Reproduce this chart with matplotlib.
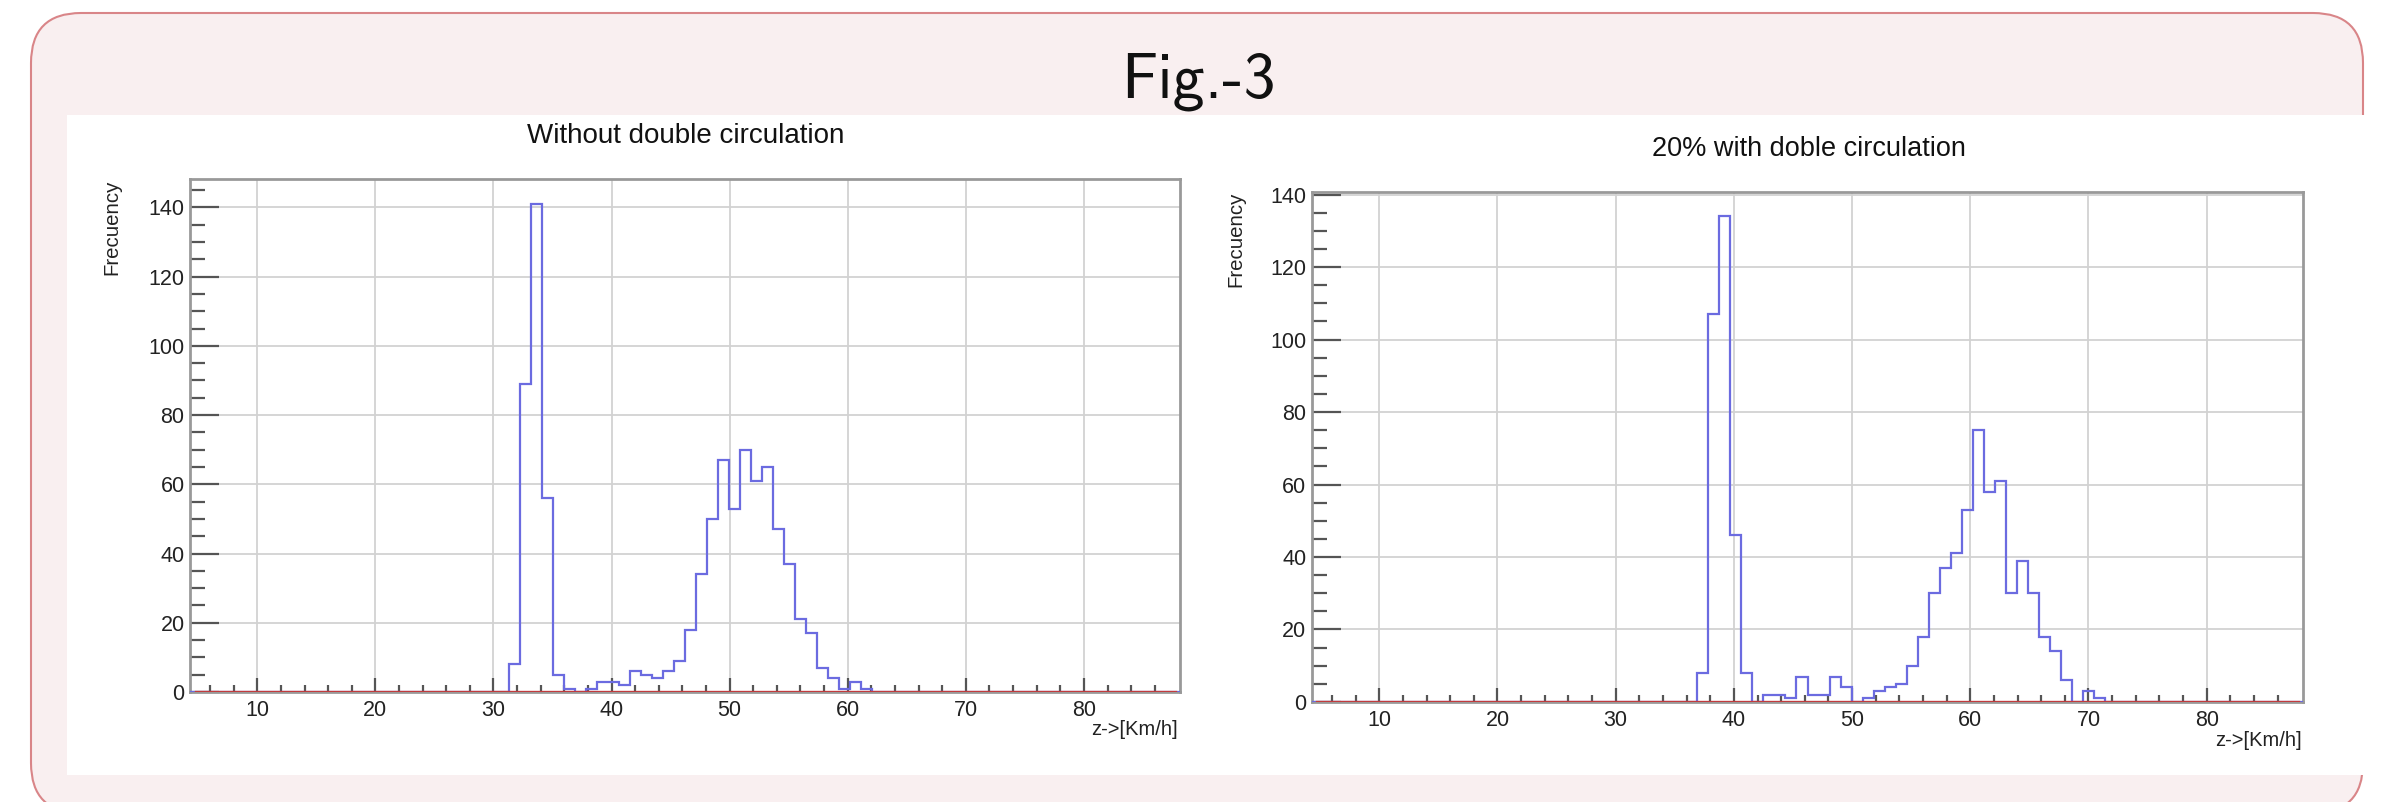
import numpy as np
import matplotlib
matplotlib.use("Agg")
import matplotlib.pyplot as plt
from matplotlib.patches import FancyBboxPatch, Rectangle

plt.rcParams['font.family'] = ['Liberation Sans', 'DejaVu Sans']

# histogram binning (same for both panels)
NBINS = 90
XMIN, XMAX = 4.31, 88.15

# bin contents, starting at bin index *_first
left_first = 29
left_counts = [8, 89, 141, 56, 5, 1, 0, 1, 3, 3, 2, 6, 5, 4, 6, 9, 18, 34, 50,
               67, 53, 70, 61, 65, 47, 37, 21, 17, 7, 4, 1, 3, 1]
right_first = 35
right_counts = [8, 107, 134, 46, 8, 0, 2, 2, 1, 7, 2, 2, 7, 4, 0, 1, 3, 4, 5,
                10, 18, 30, 37, 41, 53, 75, 58, 61, 30, 39, 30, 18, 14, 6, 0, 3, 1]

titles = ["Without double circulation", "20% with doble circulation"]
x_title = "z->[Km/h]"
y_title = "Frecuency"
fig_title = "Fig.-3"

x_major = [10, 20, 30, 40, 50, 60, 70, 80]
y_major = [0, 20, 40, 60, 80, 100, 120, 140]

HIST_COLOR = '#6b6be0'
LINE_COLOR = '#c23b3d'


def full_hist(first, counts):
    h = np.zeros(NBINS)
    h[first:first + len(counts)] = counts
    return h


def draw_panel(ax, counts):
    edges = np.linspace(XMIN, XMAX, NBINS + 1)
    centers = 0.5 * (edges[:-1] + edges[1:])
    ymax = 1.05 * counts.max()
    ax.grid(True, which='major', color='#d2d2d2', lw=1.3, zorder=0)
    ax.stairs(counts, edges, color=HIST_COLOR, lw=1.6, zorder=3)
    ax.plot(centers, np.zeros(NBINS), color=LINE_COLOR, lw=2.4, zorder=4)
    ax.set_xlim(XMIN, XMAX)
    ax.set_ylim(0, ymax)
    ax.set_xticks(x_major)
    ax.set_xticks(np.arange(6, 88, 2), minor=True)
    ax.set_yticks([v for v in y_major if v <= ymax])
    ax.set_yticks(np.arange(0, ymax, 5), minor=True)
    ax.tick_params(axis='both', which='both', direction='in', colors='#555555',
                   width=1.6, labelcolor='#222222', labelsize=15.5)
    ax.tick_params(axis='x', which='major', length=10, pad=6)
    ax.tick_params(axis='x', which='minor', length=5)
    ax.tick_params(axis='y', which='major', length=21, pad=4)
    ax.tick_params(axis='y', which='minor', length=11)
    for s in ax.spines.values():
        s.set_color('#999999')
        s.set_linewidth(2)


fig = plt.figure(figsize=(24.06, 8.02), dpi=100)

# pink rounded frame and white panel behind the plots
frame = FancyBboxPatch((0.31, -0.11), 23.32, 8.0,
                       boxstyle="round,pad=0,rounding_size=0.5",
                       transform=fig.dpi_scale_trans, facecolor='#f9eff0',
                       edgecolor='#d98588', lw=1.5, zorder=-2)
fig.patches.append(frame)
panel = Rectangle((0.67, 0.27), 24.0, 6.6, transform=fig.dpi_scale_trans,
                  facecolor='white', edgecolor='none', zorder=-1)
fig.patches.append(panel)

fig.text(0.498, 0.879, fig_title, ha='center', va='baseline',
         fontsize=46, family='cmss10', color='#111111')

ax1 = fig.add_axes([0.0790, 0.1372, 0.4115, 0.6390])
ax2 = fig.add_axes([0.5453, 0.1247, 0.4119, 0.6359])
draw_panel(ax1, full_hist(left_first, left_counts))
draw_panel(ax2, full_hist(right_first, right_counts))

fig.text(0.285, 0.830, titles[0], ha='center', va='center', fontsize=20, color='#111111')
fig.text(0.752, 0.814, titles[1], ha='center', va='center', fontsize=19.5, color='#111111')

fig.text(0.0466, 0.776, y_title, rotation=90, ha='center', va='top', fontsize=14.7, color='#222222')
fig.text(0.5137, 0.7606, y_title, rotation=90, ha='center', va='top', fontsize=14.7, color='#222222')
fig.text(0.4896, 0.0898, x_title, ha='right', va='center', fontsize=14.5, color='#222222')
fig.text(0.9568, 0.0773, x_title, ha='right', va='center', fontsize=14.5, color='#222222')

fig.savefig("out.png", dpi=100)
